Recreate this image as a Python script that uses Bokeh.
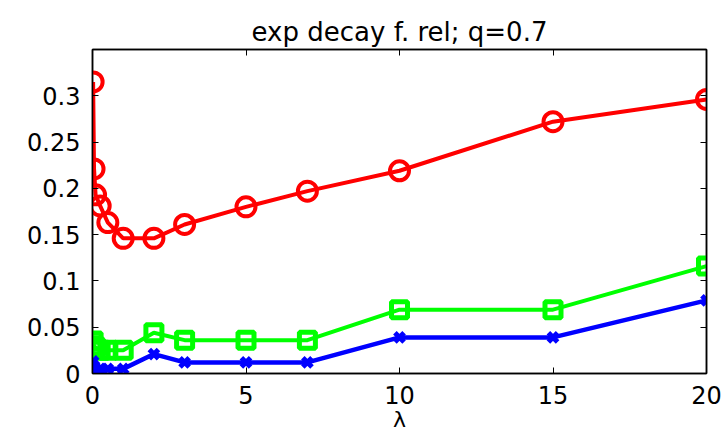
from bokeh.plotting import figure
from bokeh.models import LinearAxis, Range1d, FixedTicker, CustomJSTickFormatter, Title
from bokeh.embed import file_html
from bokeh.resources import INLINE

lam = [0.02, 0.05, 0.1, 0.25, 0.5, 1, 2, 3, 5, 7, 10, 15, 20]
red = [0.315, 0.221, 0.193, 0.181, 0.163, 0.146, 0.146, 0.161, 0.180, 0.197, 0.219, 0.272, 0.296]
green = [0.035, 0.030, 0.028, 0.025, 0.025, 0.025, 0.044, 0.036, 0.036, 0.036, 0.069, 0.069, 0.116]
blue = [0.013, 0.008, 0.005, 0.005, 0.005, 0.005, 0.021, 0.012, 0.012, 0.012, 0.039, 0.039, 0.079]

x_ticks = [0, 5, 10, 15, 20]
y_ticks = [0, 0.05, 0.1, 0.15, 0.2, 0.25, 0.3]
y_tick_labels = ["0", "0.05", "0.1", "0.15", "0.2", "0.25", "0.3"]
title = "exp decay f. rel; q=0.7"
x_label = "λ"

FONT = "DejaVu Sans"

p = figure(frame_width=614, frame_height=324, output_backend="svg", toolbar_location=None,
           x_range=Range1d(0, 20), y_range=Range1d(0, 0.35),
           min_border_left=92, min_border_right=16, min_border_top=49, min_border_bottom=6)
p.title = None
p.grid.visible = False
p.outline_line_color = "black"
p.outline_line_width = 1.5
p.background_fill_color = "white"
p.border_fill_color = "white"

for ax in (p.xaxis[0], p.yaxis[0]):
    ax.major_tick_in = 6
    ax.major_tick_out = 0
    ax.minor_tick_line_color = None
    ax.axis_line_width = 1.5
    ax.major_tick_line_width = 1
    ax.major_label_text_font = FONT
    ax.major_label_text_font_size = "24px"
    ax.major_label_text_color = "black"

p.xaxis[0].ticker = FixedTicker(ticks=x_ticks)
p.yaxis[0].ticker = FixedTicker(ticks=y_ticks)
p.yaxis[0].major_label_overrides = {t: l for t, l in zip(y_ticks, y_tick_labels)}
p.xaxis[0].major_label_standoff = 12
p.yaxis[0].major_label_standoff = 12
p.xaxis[0].axis_label = x_label
p.xaxis[0].axis_label_text_font = FONT
p.xaxis[0].axis_label_text_font_size = "22px"
p.xaxis[0].axis_label_text_font_style = "normal"
p.xaxis[0].axis_label_text_color = "black"
p.xaxis[0].axis_label_standoff = 0

empty = CustomJSTickFormatter(code="return ''")
top = LinearAxis(ticker=FixedTicker(ticks=x_ticks), formatter=empty,
                 major_tick_in=6, major_tick_out=0, minor_tick_line_color=None,
                 axis_line_width=1.5, major_label_standoff=0)
right = LinearAxis(ticker=FixedTicker(ticks=y_ticks), formatter=empty,
                   major_tick_in=6, major_tick_out=0, minor_tick_line_color=None,
                   axis_line_width=1.5, major_label_standoff=0)
p.add_layout(top, "above")
p.add_layout(right, "right")

p.add_layout(Title(text=title, text_font=FONT, text_font_size="26px", text_color="black",
                   text_font_style="normal", align="center", offset=8, standoff=6), "above")

p.line(lam, red, line_color="#ff0000", line_width=4)
p.scatter(lam, red, marker="circle", size=19, fill_color=None, line_color="#ff0000", line_width=4)

p.line(lam, green, line_color="#00ff00", line_width=4)
p.scatter(lam, green, marker="square", size=16, fill_color=None, line_color="#00ff00", line_width=5)

p.line(lam, blue, line_color="#0000ff", line_width=4.5)
p.scatter(lam, blue, marker="x", size=13, line_color="#0000ff", line_width=5)

open("out.html", "w").write(file_html(p, INLINE))
